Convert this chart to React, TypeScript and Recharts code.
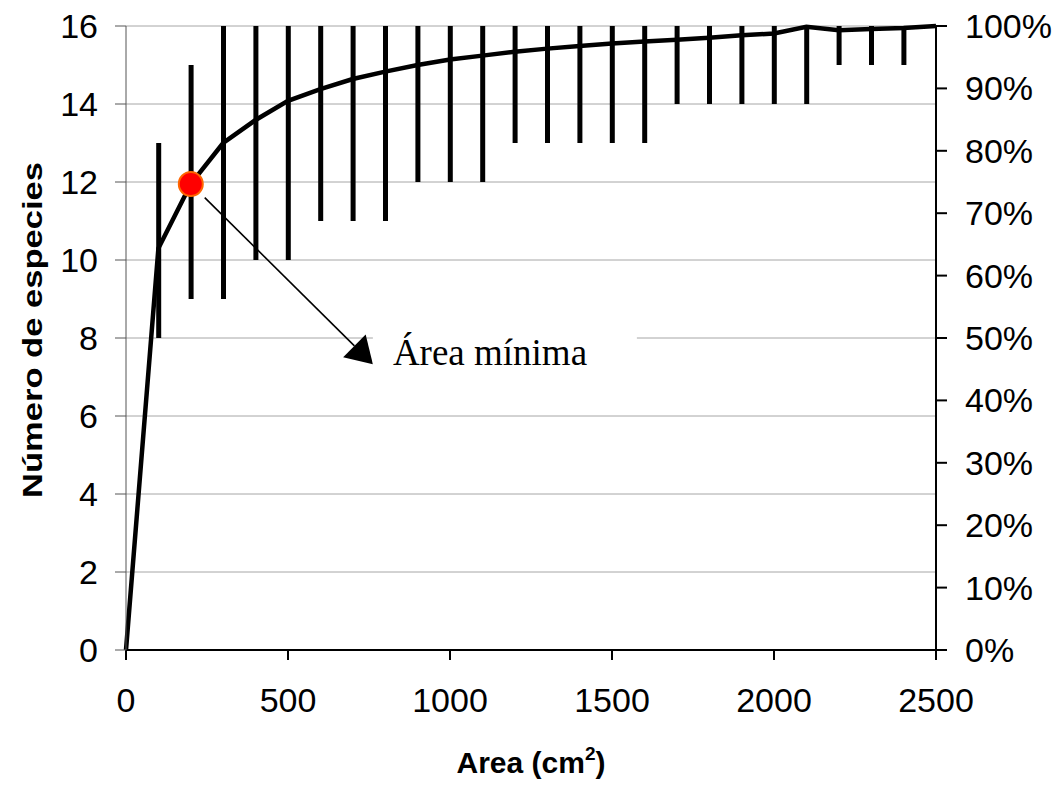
import React from 'react';
import {
  ComposedChart,
  Line,
  Bar,
  XAxis,
  YAxis,
  CartesianGrid,
  ReferenceDot,
  ReferenceLine,
} from 'recharts';

// ---- data ----
const areas = [0, 100, 200, 300, 400, 500, 600, 700, 800, 900, 1000, 1100, 1200, 1300, 1400, 1500, 1600, 1700, 1800, 1900, 2000, 2100, 2200, 2300, 2400, 2500];
const meanSpecies = [0, 10.3, 11.95, 13.0, 13.59, 14.08, 14.38, 14.64, 14.83, 15.0, 15.14, 15.24, 15.34, 15.42, 15.49, 15.55, 15.6, 15.65, 15.7, 15.76, 15.81, 15.98, 15.89, 15.92, 15.95, 16];
const minSpecies: (number | null)[] = [null, 8, 9, 9, 10, 10, 11, 11, 11, 12, 12, 12, 13, 13, 13, 13, 13, 14, 14, 14, 14, 14, 15, 15, 15, null];
const maxSpecies: (number | null)[] = [null, 13, 15, 16, 16, 16, 16, 16, 16, 16, 16, 16, 16, 16, 16, 16, 16, 16, 16, 16, 16, 16, 16, 16, 16, null];

const areaTicks = [0, 500, 1000, 1500, 2000, 2500];
const speciesTicks = [0, 2, 4, 6, 8, 10, 12, 14, 16];
const percentTicks = [0, 10, 20, 30, 40, 50, 60, 70, 80, 90, 100];

const minimumArea = 200;
const annotationText = 'Área mínima';
const arrowStart = { x: 243, y: 11.6 };
const arrowTip = { x: 762, y: 7.33 };

const xLabel = 'Area (cm';
const xLabelSup = '2';
const yLabel = 'Número de especies';

const data = areas.map((a, i) => ({
  area: a,
  mean: meanSpecies[i],
  range: minSpecies[i] != null && maxSpecies[i] != null ? [minSpecies[i], maxSpecies[i]] : undefined,
}));

const minIdx = areas.indexOf(minimumArea);

const FONT = '"Liberation Sans", Arial, Helvetica, sans-serif';
const SERIF = '"Liberation Serif", "Times New Roman", serif';

const Arrow = (props: any) => {
  const { x1, y1, x2, y2 } = props;
  const dx = x2 - x1;
  const dy = y2 - y1;
  const len = Math.hypot(dx, dy) || 1;
  const ux = dx / len;
  const uy = dy / len;
  const headLen = 26;
  const half = 16;
  const bx = x2 - ux * headLen;
  const by = y2 - uy * headLen;
  const p1x = bx - uy * half;
  const p1y = by + ux * half;
  const p2x = bx + uy * half;
  const p2y = by - ux * half;
  return (
    <g>
      <line x1={x1} y1={y1} x2={bx} y2={by} stroke="#000" strokeWidth={1.6} />
      <polygon points={`${x2},${y2} ${p1x},${p1y} ${p2x},${p2y}`} fill="#000" />
    </g>
  );
};

const Note = (props: any) => {
  const { cx, cy } = props;
  return (
    <g>
      <rect x={cx} y={cy - 46} width={264} height={66} fill="#fff" />
      <text x={cx + 20} y={cy + 1} fontFamily={SERIF} fontSize={37} fill="#000">
        {annotationText}
      </text>
    </g>
  );
};

const XLabel = (props: any) => {
  const vb = props.viewBox || {};
  const cx = vb.x + vb.width / 2;
  const y = vb.y + 123;
  return (
    <text x={cx} y={y} textAnchor="middle" fontFamily={FONT} fontWeight="bold" fontSize={30} fill="#000">
      {xLabel}
      <tspan fontSize={19} dy={-13}>{xLabelSup}</tspan>
      <tspan dy={13}>)</tspan>
    </text>
  );
};

const YLabel = (props: any) => {
  const vb = props.viewBox || {};
  const x = vb.x + 42;
  const y = vb.y + 304;
  return (
    <text
      x={x}
      y={y}
      transform={`rotate(-90, ${x}, ${y})`}
      textAnchor="middle"
      fontFamily={FONT}
      fontWeight="bold"
      fontSize={27}
      fill="#000"
      textLength={336}
      lengthAdjust="spacingAndGlyphs"
    >
      {yLabel}
    </text>
  );
};

export default function App() {
  return (
    <div style={{ position: 'absolute', left: 0, top: 0, width: 1058, height: 785, background: '#fff' }}>
      <ComposedChart
        width={1058}
        height={785}
        data={data}
        margin={{ top: 26, right: 0, bottom: 0, left: 0 }}
      >
        <CartesianGrid yAxisId="left" horizontal vertical={false} stroke="#A6A6A6" strokeWidth={1} />
        <XAxis
          dataKey="area"
          type="number"
          domain={[0, 2500]}
          ticks={areaTicks}
          height={135}
          axisLine={{ stroke: '#000', strokeWidth: 2 }}
          tickLine={{ stroke: '#000', strokeWidth: 2 }}
          tickSize={10}
          tickMargin={28}
          tick={{ fill: '#000', fontSize: 34, fontFamily: FONT }}
          interval={0}
          label={<XLabel />}
        />
        <YAxis
          yAxisId="left"
          domain={[0, 16]}
          ticks={speciesTicks}
          width={126}
          axisLine={{ stroke: '#555', strokeWidth: 1 }}
          tickLine={{ stroke: '#555', strokeWidth: 1 }}
          tickSize={11}
          tickMargin={17}
          tick={{ fill: '#000', fontSize: 34, fontFamily: FONT }}
          interval={0}
          label={<YLabel />}
        />
        <YAxis
          yAxisId="right"
          orientation="right"
          domain={[0, 100]}
          allowDataOverflow
          ticks={percentTicks}
          width={122}
          axisLine={{ stroke: '#000', strokeWidth: 2 }}
          tickLine={{ stroke: '#000', strokeWidth: 2 }}
          tickSize={11}
          tickMargin={18}
          tick={{ fill: '#000', fontSize: 34, fontFamily: FONT }}
          tickFormatter={(v: number) => `${v}%`}
          interval={0}
        />
        <Bar
          yAxisId="left"
          dataKey="range"
          fill="#000"
          barSize={5}
          isAnimationActive={false}
        />
        <Line
          yAxisId="right"
          type="linear"
          dataKey="mean"
          stroke="none"
          strokeWidth={0}
          dot={false}
          activeDot={false}
          legendType="none"
          isAnimationActive={false}
        />
        <Line
          yAxisId="left"
          type="linear"
          dataKey="mean"
          stroke="#000"
          strokeWidth={4.5}
          dot={false}
          activeDot={false}
          isAnimationActive={false}
        />
        <ReferenceDot
          yAxisId="left"
          x={arrowTip.x}
          y={arrowTip.y}
          r={1}
          shape={<Note />}
        />
        <ReferenceLine
          yAxisId="left"
          segment={[arrowStart, arrowTip]}
          shape={(p: any) => <Arrow {...p} />}
        />
        <ReferenceDot
          yAxisId="left"
          x={minimumArea}
          y={meanSpecies[minIdx]}
          r={12}
          fill="#FF0000"
          stroke="#FF6600"
          strokeWidth={2}
        />
      </ComposedChart>
    </div>
  );
}
